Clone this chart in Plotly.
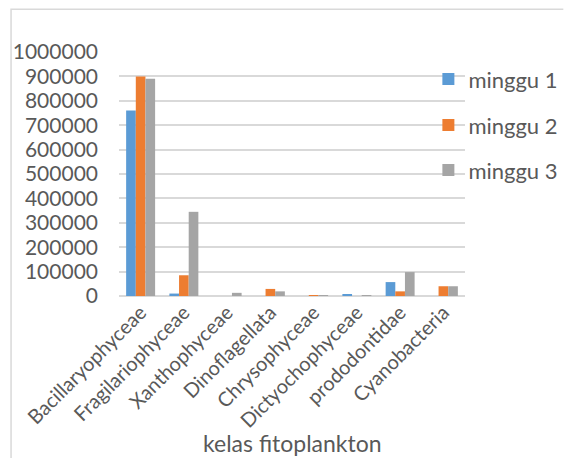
import plotly.graph_objects as go

# Phytoplankton class abundance per week
kelas = ["Bacillaryophyceae", "Fragilariophyceae", "Xanthophyceae", "Dinoflagellata",
         "Chrysophyceae", "Dictyochophyceae", "prododontidae", "Cyanobacteria"]
minggu_1 = [760000, 10000, 0, 0, 0, 6000, 57000, 0]
minggu_2 = [900000, 85000, 0, 29000, 1500, 0, 19000, 40000]
minggu_3 = [890000, 345000, 13000, 19000, 1000, 1000, 98000, 40000]
y_ticks = [0, 100000, 200000, 300000, 400000, 500000, 600000, 700000, 800000, 900000, 1000000]

series = [("minggu 1", minggu_1, "#5B9BD5", "legend"),
          ("minggu 2", minggu_2, "#ED7D31", "legend2"),
          ("minggu 3", minggu_3, "#A5A5A5", "legend3")]

FONT = "Lato"
TXT = "#595959"
GRID = "#D9D9D9"

W, H = 575, 458
L, R, T, B = 119, 97, 51.7, 162.3
pw, ph = W - L - R, H - T - B

fig = go.Figure()
for name, vals, col, lg in series:
    fig.add_trace(go.Bar(x=kelas, y=vals, name=name, marker_color=col,
                         marker_line_width=0, legend=lg, showlegend=True))

def px_x(x):
    return (x - L) / pw

def px_y(y):
    return (H - B - y) / ph

legend_common = dict(bgcolor="rgba(0,0,0,0)", xanchor="left", yanchor="middle",
                     font=dict(family=FONT, size=22, color=TXT))
leg_x = px_x(440)

fig.update_layout(
    width=W, height=H,
    margin=dict(l=L, r=R, t=T, b=B),
    paper_bgcolor="white", plot_bgcolor="white",
    showlegend=True,
    barmode="group", bargap=0.33, bargroupgap=0,
    font=dict(family=FONT, color=TXT),
    legend=dict(x=leg_x, y=px_y(79), **legend_common),
    legend2=dict(x=leg_x, y=px_y(125), **legend_common),
    legend3=dict(x=leg_x, y=px_y(170), **legend_common),
    xaxis=dict(tickangle=-45, tickfont=dict(family=FONT, size=20, color=TXT),
               showgrid=False, showline=False, ticks=""),
    yaxis=dict(range=[0, 1000000], tickvals=y_ticks,
               ticktext=[str(v) for v in y_ticks],
               tickfont=dict(family=FONT, size=21, color=TXT),
               showgrid=True, gridcolor=GRID, gridwidth=1.5,
               zeroline=True, zerolinecolor=GRID, zerolinewidth=1.5,
               ticks="", ticklabelstandoff=20),
    annotations=[dict(text="kelas fitoplankton", x=0.5, y=px_y(443),
                      xref="paper", yref="paper", showarrow=False,
                      xanchor="center", yanchor="middle",
                      font=dict(family=FONT, size=23, color=TXT))],
    shapes=[dict(type="path", xref="paper", yref="paper",
                 path=f"M {px_x(7)},{px_y(H + 5)} L {px_x(7)},{px_y(9)} L {px_x(W + 5)},{px_y(9)}",
                 line=dict(color=GRID, width=1.5))],
)

fig.write_html("out.html")
